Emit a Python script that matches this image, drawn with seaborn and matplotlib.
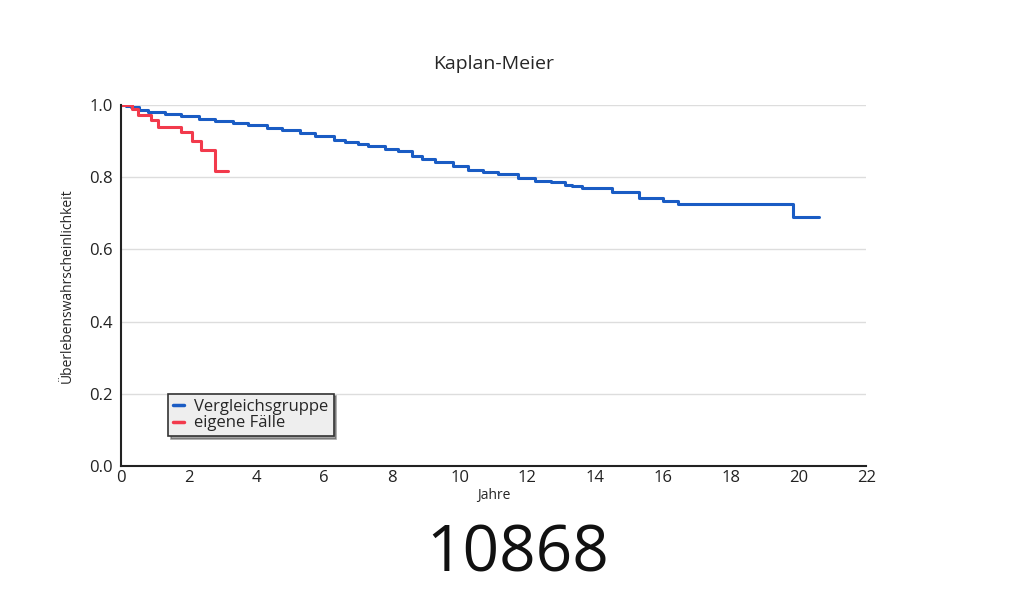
import matplotlib
matplotlib.use("Agg")
import matplotlib.pyplot as plt
import seaborn as sns
import pandas as pd

# Vergleichsgruppe (blau)
vergleich_jahre = [0.0, 0.15, 0.3, 0.55, 0.8, 1.3, 1.79, 2.3, 2.78, 3.3, 3.76, 4.3, 4.75, 5.3, 5.73, 6.3,
                   6.62, 7.0, 7.3, 7.8, 8.19, 8.58, 8.9, 9.27, 9.8, 10.26, 10.7, 11.14, 11.73,
                   12.23, 12.7, 13.11, 13.3, 13.6, 14.5, 15.3, 16.0, 16.45, 19.85, 20.6]
vergleich_surv = [1.0, 0.997, 0.993, 0.987, 0.981, 0.975, 0.968, 0.961, 0.954, 0.949, 0.943, 0.937,
                  0.931, 0.923, 0.915, 0.904, 0.896, 0.891, 0.885, 0.878, 0.871, 0.857, 0.85, 0.843,
                  0.832, 0.82, 0.814, 0.808, 0.797, 0.789, 0.785, 0.778, 0.776, 0.770, 0.759,
                  0.742, 0.734, 0.726, 0.69, 0.69]

# eigene Fälle (rot)
eigene_jahre = [0.0, 0.33, 0.5, 0.9, 1.1, 1.79, 2.09, 2.38, 2.78, 3.16]
eigene_surv = [1.0, 0.988, 0.972, 0.958, 0.94, 0.926, 0.901, 0.875, 0.817, 0.817]

x_ticks = list(range(0, 23, 2))
y_ticks = [0.0, 0.2, 0.4, 0.6, 0.8, 1.0]

df = pd.concat([
    pd.DataFrame({"Jahre": vergleich_jahre, "S": vergleich_surv, "Gruppe": "Vergleichsgruppe"}),
    pd.DataFrame({"Jahre": eigene_jahre, "S": eigene_surv, "Gruppe": "eigene Fälle"}),
], ignore_index=True)

sns.set_style("white")
plt.rcParams['font.family'] = ['Open Sans', 'DejaVu Sans']

fig = plt.figure(figsize=(10.24, 6.06), dpi=100)
ax = fig.add_axes([0.118, 0.231, 0.728, 0.596])

sns.lineplot(data=df, x="Jahre", y="S", hue="Gruppe", sort=False, estimator=None,
             palette={"Vergleichsgruppe": "#1a5cc4", "eigene Fälle": "#f23a4c"},
             drawstyle="steps-post", linewidth=2.2, ax=ax)

ax.set_xlim(0, 22)
ax.set_ylim(0, 1.0)
ax.set_xticks(x_ticks)
ax.set_yticks(y_ticks)
ax.set_xticks(range(1, 22, 2), minor=True)
ax.set_yticks([0.1, 0.3, 0.5, 0.7, 0.9], minor=True)
ax.set_yticklabels([f"{v:.1f}" for v in y_ticks])
ax.tick_params(axis="both", which="both", direction="in", length=4, width=1.2,
               colors="#222222", labelsize=12, pad=3)
ax.tick_params(axis="both", which="minor", length=3)
ax.tick_params(axis="y", pad=6)

for y in y_ticks[1:]:
    ax.axhline(y, color="#dddddd", linewidth=1, zorder=0)

for s in ["top", "right"]:
    ax.spines[s].set_visible(False)
for s in ["left", "bottom"]:
    ax.spines[s].set_color("#222222")
    ax.spines[s].set_linewidth(1.5)

ax.set_xlabel("Jahre", fontsize=10, labelpad=1)
ax.set_ylabel("Überlebenswahrscheinlichkeit", fontsize=10, labelpad=10)
ax.set_title("Kaplan-Meier", fontsize=14, pad=26)

leg = ax.legend(loc="lower left", bbox_to_anchor=(0.063, 0.082), frameon=True, fancybox=False,
                shadow=True, fontsize=12, handlelength=0.7, handletextpad=0.6,
                borderpad=0.3, labelspacing=0.05, borderaxespad=0)
leg.get_frame().set_facecolor("#eeeeee")
leg.get_frame().set_edgecolor("#333333")
leg.get_frame().set_linewidth(1.2)
for line in leg.get_lines():
    line.set_linewidth(2.5)

fig.text(0.506, 0.085, "10868", ha="center", va="center", fontsize=46, color="#111111")

fig.savefig("out.png", dpi=100, facecolor="white")
